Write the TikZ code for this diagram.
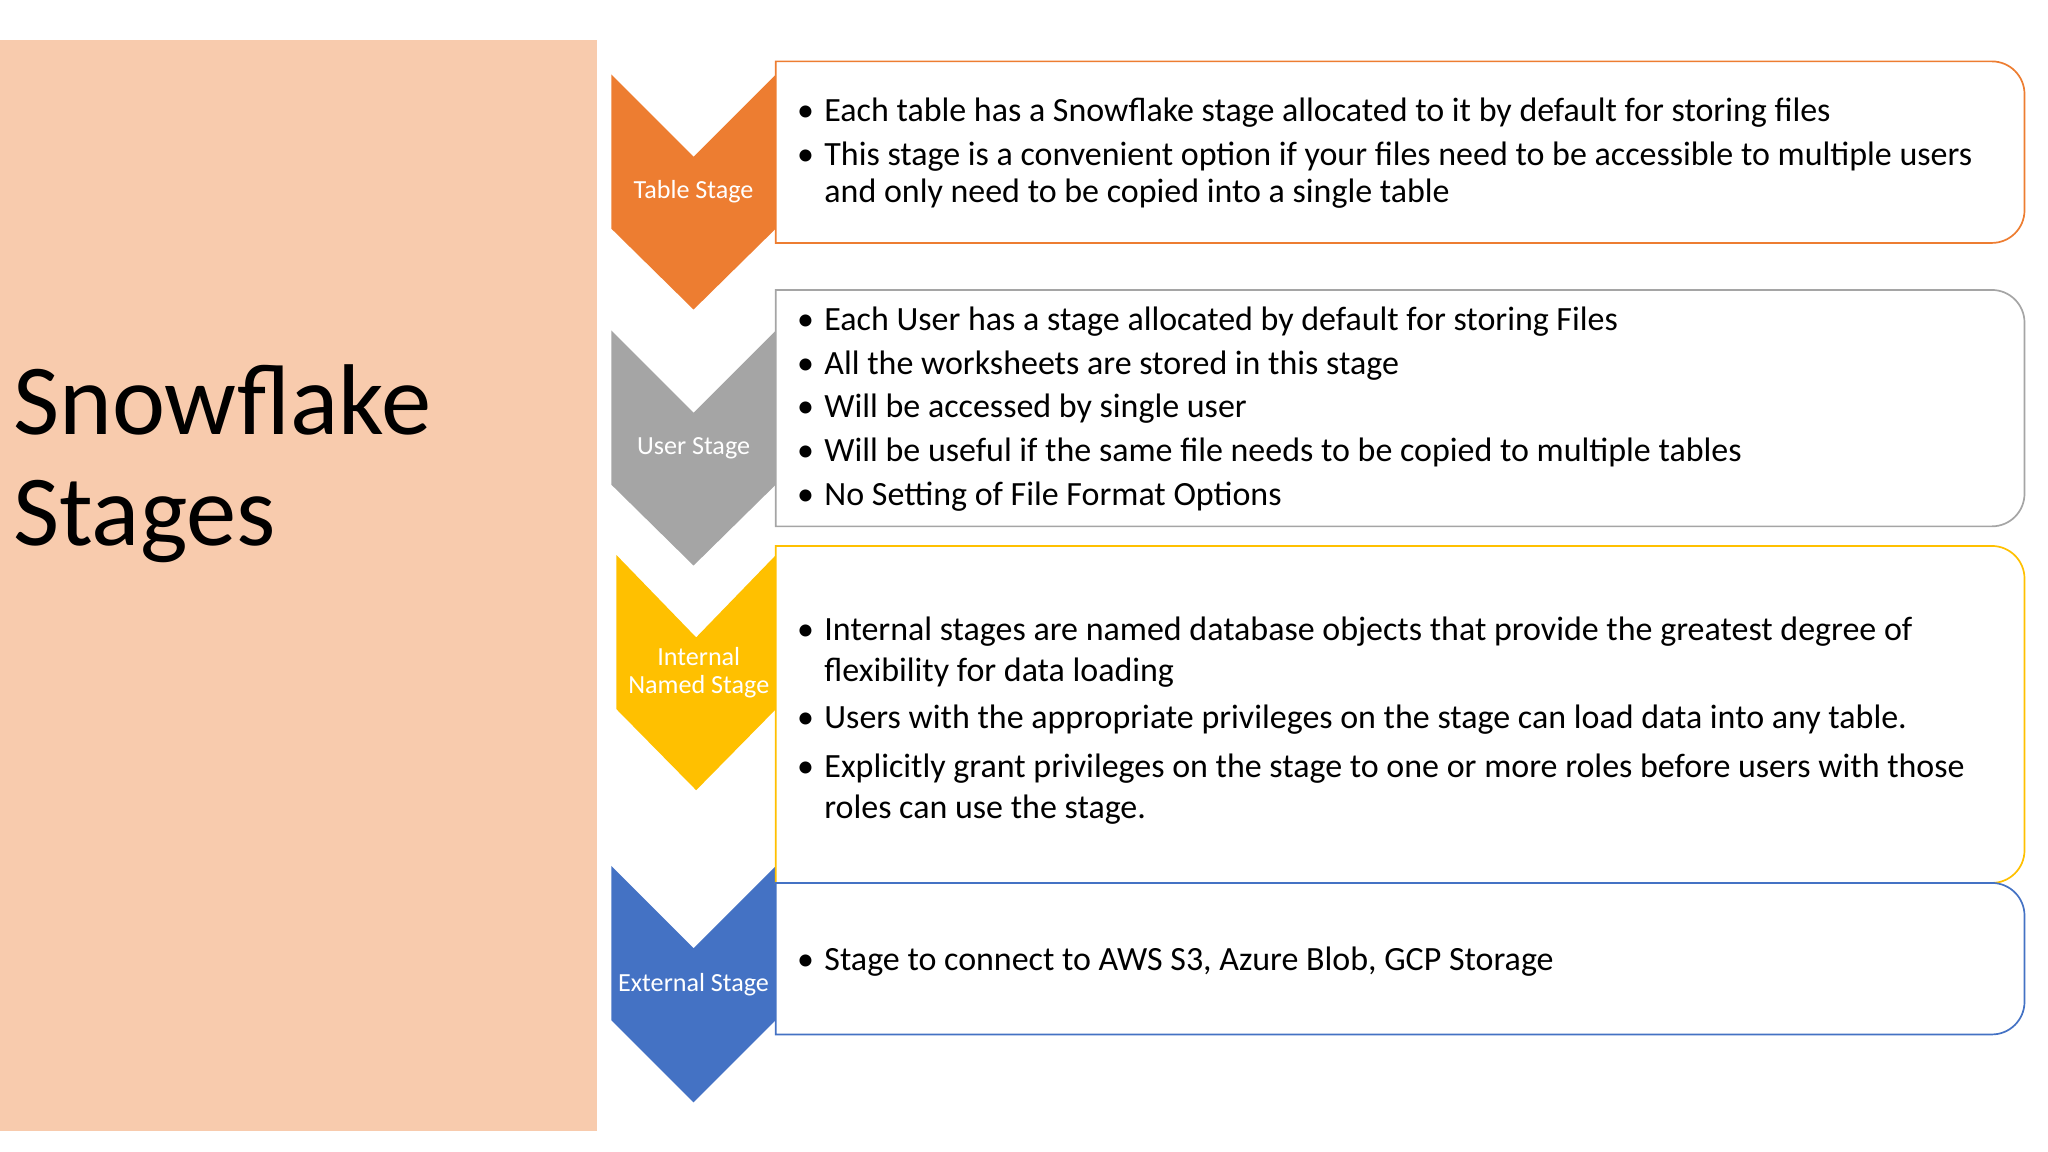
\documentclass[tikz,border=0pt]{standalone}
\usepackage{fontspec}
\setmainfont{Carlito}
\definecolor{peach}{HTML}{F8CBAD}
\definecolor{corange}{HTML}{ED7D31}
\definecolor{cgray}{HTML}{A5A5A5}
\definecolor{cgold}{HTML}{FFC000}
\definecolor{cblue}{HTML}{4472C4}
\begin{document}
\begin{tikzpicture}[x=1pt,y=-1pt,
  lbl/.style={text=white,font=\fontsize{20}{23}\selectfont,align=center},
  bt/.style={anchor=base west,inner sep=0pt,font=\fontsize{26}{30}\selectfont},
  box/.style={line width=1.3pt,fill=white}]
\useasboundingbox (0,0) rectangle (1568,882);
\fill[peach] (0,31) rectangle (457,866);
\node[anchor=base west,inner sep=0pt,font=\fontsize{77}{80}\selectfont] (t1) at (10,333) {Snowflake};
\node[anchor=base west,inner sep=0pt,font=\fontsize{77}{80}\selectfont] (t2) at (10,418) {Stages};
% chevrons
\newcommand{\chev}[5]{\fill[#5] (#1,#3) -- ({(#1+#2)/2},#3+63) -- (#2,#3) -- (#2,#3+118) -- ({(#1+#2)/2},#4) -- (#1,#3+118) -- cycle;}
\chev{468}{594}{57}{237}{corange}
\chev{468}{594}{253}{433}{cgray}
\chev{472}{594}{425}{605}{cgold}
\chev{468}{594}{663}{844}{cblue}
% boxes
\newcommand{\rbox}[3]{\draw[box,draw=#3] (594,#1) -- (1525,#1) arc[start angle=-90,end angle=0,radius=25] -- (1550,#2-25) arc[start angle=0,end angle=90,radius=25] -- (594,#2) -- cycle;}
\rbox{47}{186}{corange}
\rbox{222}{403}{cgray}
\rbox{418}{676}{cgold}
\rbox{676}{792}{cblue}
\node[lbl] (l1) at (531,147) {Table Stage};
\node[lbl] (l2) at (531,343) {User Stage};
\node[lbl] (l3) at (535,515) {Internal\\[-2pt]Named Stage};
\node[lbl] (l4) at (531,754) {External Stage};
% texts
\newcommand{\bl}[2]{\node[bt] at (610,#1) {\textbullet}; \node[bt] at (631,#1) {#2};}
\newcommand{\cl}[2]{\node[bt] at (631,#1) {#2};}
\bl{93}{Each table has a Snowflake stage allocated to it by default for storing files}
\bl{127}{This stage is a convenient option if your files need to be accessible to multiple users}
\cl{155}{and only need to be copied into a single table}
\bl{253}{Each User has a stage allocated by default for storing Files}
\bl{287}{All the worksheets are stored in this stage}
\bl{320}{Will be accessed by single user}
\bl{353}{Will be useful if the same file needs to be copied to multiple tables}
\bl{387}{No Setting of File Format Options}
\bl{490}{Internal stages are named database objects that provide the greatest degree of}
\cl{522}{flexibility for data loading}
\bl{558}{Users with the appropriate privileges on the stage can load data into any table.}
\bl{595}{Explicitly grant privileges on the stage to one or more roles before users with those}
\cl{627}{roles can use the stage.}
\bl{743}{Stage to connect to AWS S3, Azure Blob, GCP Storage}
\end{tikzpicture}
\end{document}
